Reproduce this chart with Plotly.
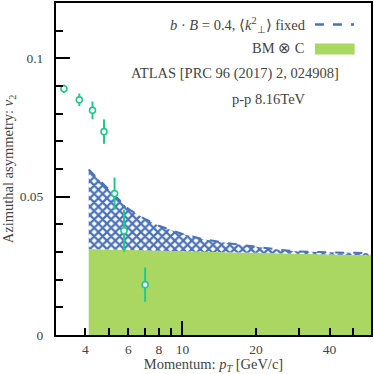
import plotly.graph_objects as go

# ATLAS data points
pt_data = [3.27, 3.78, 4.28, 4.77, 5.27, 5.76, 7.03]
v2_data = [0.0890, 0.0850, 0.0812, 0.0735, 0.0511, 0.0377, 0.0182]
v2_err = [0.0015, 0.0023, 0.0032, 0.0044, 0.0058, 0.0076, 0.0062]

# model curves
pt_grid = [4.13, 4.5, 5.0, 5.5, 6.0, 7.0, 8.0, 10.0, 12.0, 15.0, 20.0, 25.0, 30.0, 40.0, 50.0, 60.0]
v2_bB = [0.0598, 0.0565, 0.0524, 0.0488, 0.0456, 0.0420, 0.0395, 0.0365, 0.0347, 0.0333,
         0.0318, 0.0308, 0.0302, 0.0298, 0.0296, 0.0295]
v2_bmc = [0.0311, 0.0310, 0.0309, 0.0308, 0.0308, 0.0306, 0.0305, 0.0303, 0.0301, 0.0299,
          0.0297, 0.0295, 0.0293, 0.0291, 0.0289, 0.0287]

x_labels = [4, 6, 8, 10, 20, 40]
x_minor = [5, 7, 9, 30, 50]

BLUE = "#4a72b8"
GREEN = "#a9d762"
PTS = "#21c98b"
TXT = "#444444"
FONT = "Liberation Serif"
FS = 14.5
TFS = 13.5

fig = go.Figure()
fig.add_trace(go.Scatter(
    x=pt_grid, y=v2_bmc, mode="lines", fill="tozeroy",
    line=dict(color=GREEN, width=0), fillcolor=GREEN,
    showlegend=False, hoverinfo="skip"))
fig.add_trace(go.Scatter(
    x=pt_grid, y=v2_bB, mode="lines", fill="tonexty",
    line=dict(color=BLUE, width=2, dash="dash"),
    fillcolor="white",
    fillpattern=dict(shape="x", fgcolor=BLUE, bgcolor="white", fgopacity=1, size=6, solidity=0.6),
    showlegend=False, hoverinfo="skip"))
fig.add_trace(go.Scatter(
    x=pt_data, y=v2_data, mode="markers",
    marker=dict(symbol="circle", size=6, color="white", line=dict(color=PTS, width=1.6)),
    error_y=dict(type="data", array=v2_err, color=PTS, thickness=2, width=0),
    showlegend=False))

fig.add_trace(go.Scatter(x=[10], y=[0], xaxis="x2", mode="markers",
                         marker=dict(opacity=0), showlegend=False, hoverinfo="skip"))

fig.update_layout(
    width=374, height=374,
    margin=dict(l=56, r=1, t=1, b=39),
    plot_bgcolor="white", paper_bgcolor="white",
    font=dict(family=FONT, size=FS, color=TXT),
    xaxis=dict(
        type="log", range=[0.482, 1.772],
        tickmode="array", tickvals=x_labels, ticktext=[str(v) for v in x_labels],
        ticks="inside", ticklen=7, tickwidth=1.5, tickcolor="black",
        minor=dict(tickmode="array", tickvals=x_minor, ticks="inside", ticklen=7,
                   tickwidth=1.5, tickcolor="black", showgrid=False),
        showline=True, linecolor="black", linewidth=2, mirror=True,
        showgrid=False, zeroline=False,
        ticklabelstandoff=1,
        tickfont=dict(family=FONT, size=TFS, color=TXT),
        title=dict(text="Momentum: <i>p</i><sub><i>T</i></sub> [GeV/c]",
                   font=dict(family=FONT, size=FS, color=TXT), standoff=0),
    ),
    xaxis2=dict(
        type="log", range=[0.482, 1.772], overlaying="x", side="bottom",
        tickmode="array", tickvals=[10], ticks="inside", ticklen=14, tickwidth=1.5,
        tickcolor="black", showticklabels=False, showgrid=False, zeroline=False,
        showline=False,
    ),
    yaxis=dict(
        range=[0, 0.12],
        tickmode="array", tickvals=[0, 0.05, 0.1], ticktext=["0", "0.05", "0.1"],
        ticks="inside", ticklen=14, tickwidth=1.5, tickcolor="black",
        minor=dict(tickmode="array", tickvals=[0.01, 0.02, 0.03, 0.04, 0.06, 0.07, 0.08, 0.09, 0.11],
                   ticks="inside", ticklen=7, tickwidth=1.5, tickcolor="black", showgrid=False),
        showline=True, linecolor="black", linewidth=2, mirror=True,
        showgrid=False, zeroline=False,
        ticklabelstandoff=8,
        tickfont=dict(family=FONT, size=TFS, color=TXT),
        title=dict(text="Azimuthal asymmetry: <i>v</i><sub>2</sub>",
                   font=dict(family=FONT, size=FS, color=TXT), standoff=4),
    ),
)

ann = [
    ("<i>b</i> · <i>B</i> = 0.4, ⟨<i>k</i><sup>2</sup><sub>⊥</sub>⟩ fixed", 0.801, 0.935),
    ("BM ⊗ C", 0.798, 0.865),
    ("ATLAS [PRC 96 (2017) 2, 024908]", 0.905, 0.787),
    ("p-p 8.16TeV", 0.801, 0.710),
]
for text, x, y in ann:
    fig.add_annotation(text=text, xref="paper", yref="paper", x=x, y=y,
                       xanchor="right", yanchor="middle", showarrow=False,
                       font=dict(family=FONT, size=FS, color=TXT))

fig.add_shape(type="line", xref="paper", yref="paper", x0=0.822, x1=0.946, y0=0.935, y1=0.935,
              line=dict(color=BLUE, width=2.5, dash="dash"))
fig.add_shape(type="rect", xref="paper", yref="paper", x0=0.822, x1=0.948, y0=0.845, y1=0.878,
              line=dict(width=0), fillcolor=GREEN)

fig.write_html("out.html", config={"displayModeBar": False},
               post_script="document.body.style.margin='0';")
